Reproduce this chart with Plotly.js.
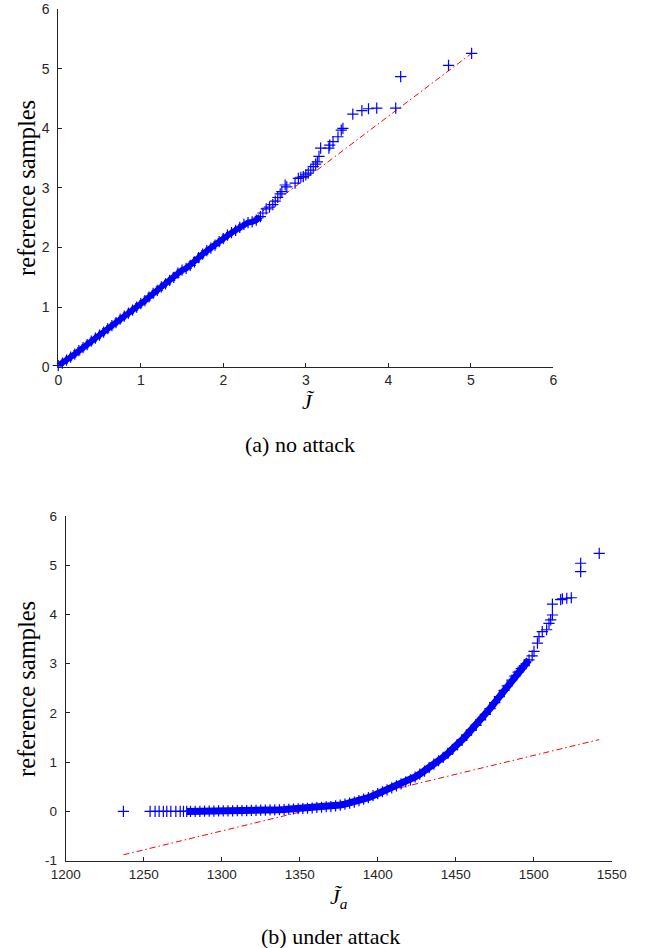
<!DOCTYPE html>
<html>
<head>
<meta charset="utf-8">
<script src="https://cdn.plot.ly/plotly-3.0.1.min.js"></script>
<style>html,body{margin:0;padding:0;background:#fff;}#chart{width:646px;height:948px;}</style>
</head>
<body>
<div id="chart"></div>
<script>
// ---- (a) no attack : dense band of overlapping samples ----
var topBandJ = [0.00,0.05,0.10,0.15,0.20,0.25,0.30,0.35,0.40,0.45,0.50,0.55,0.60,0.65,0.70,0.75,0.80,0.85,0.90,0.95,
                1.00,1.05,1.10,1.15,1.20,1.25,1.30,1.35,1.40,1.45,1.50,1.55,1.60,1.65,1.70,1.75,1.80,1.85,1.90,1.95,
                2.00,2.05,2.10,2.15,2.20,2.25,2.30,2.35,2.40,2.45];
var topBandRef = [0.02,0.06,0.11,0.16,0.21,0.27,0.32,0.37,0.43,0.48,0.53,0.58,0.64,0.69,0.74,0.80,0.85,0.90,0.95,1.00,
                  1.06,1.11,1.17,1.23,1.28,1.34,1.39,1.45,1.50,1.57,1.62,1.65,1.70,1.76,1.83,1.89,1.95,1.99,2.04,2.10,
                  2.15,2.21,2.25,2.29,2.34,2.39,2.42,2.43,2.46,2.52];
// ---- (a) no attack : separated upper-tail samples ----
var topTailJ = [2.48,2.52,2.56,2.60,2.63,2.66,2.69,2.71,2.75,2.77,
                2.87,2.91,2.94,2.97,3.00,3.03,3.06,3.09,3.12,3.14,3.16,3.18,3.28,3.29,3.33,3.39,3.43,3.45,3.57,3.68,
                3.76,3.86,4.09,4.15,4.73,5.01];
var topTailRef = [2.58,2.65,2.68,2.72,2.78,2.84,2.90,2.94,3.05,3.02,
                  3.08,3.16,3.18,3.19,3.22,3.25,3.30,3.36,3.40,3.44,3.53,3.67,3.67,3.72,3.78,3.86,3.97,4.00,4.24,4.30,
                  4.33,4.34,4.34,4.87,5.06,5.26];
var topLineJ = [0.00, 5.01];
var topLineRef = [0.02, 5.26];

// ---- (b) under attack : separated lower-tail samples ----
var botLowJ = [1237.0,1254.1,1257.3,1259.9,1262.6,1264.8,1267.4,1270.6,1273.4,1275.5];
var botLowRef = [0,0,0,0,0,0,0,0,0,0];
// ---- (b) under attack : dense band ----
var botBandJ = [1277.6,1280,1283,1286,1289,1292,1295,1298,1301,1304,
                1307,1310,1313,1316,1319,1322,1325,1328,1331,1334,
                1337,1340,1343,1346,1349,1352,1355,1358,1361,1364,
                1367,1370,1373,1376,1379,1382,1385,1388,1391,1394,
                1397,1400,1403,1406,1409,1412,1415,1418,1421,1424,
                1427,1430,1433,1436,1439,1442,1445,1448,1451,1454,
                1457,1460,1463,1466,1469,1472,1475,1478,1481,1483,
                1486,1488,1490,1492,1494,1497];
var botBandRef = [0,0.00,0.00,0.00,0.005,0.005,0.005,0.01,0.01,0.01,
                  0.012,0.015,0.015,0.018,0.02,0.02,0.025,0.025,0.03,0.03,
                  0.035,0.04,0.045,0.05,0.055,0.06,0.065,0.07,0.08,0.085,
                  0.095,0.10,0.115,0.13,0.15,0.17,0.19,0.22,0.25,0.28,
                  0.32,0.36,0.40,0.44,0.48,0.52,0.56,0.60,0.64,0.70,
                  0.76,0.82,0.89,0.96,1.03,1.10,1.18,1.26,1.35,1.45,
                  1.55,1.65,1.75,1.86,1.97,2.09,2.21,2.33,2.46,2.55,
                  2.67,2.75,2.83,2.90,2.96,3.08];
// ---- (b) under attack : separated upper-tail samples ----
var botTailJ = [1499,1500.2,1502.4,1503.4,1505.5,1508.3,1509.8,1510.9,1512.0,1512.0,
                1517.3,1518.4,1521.2,1524.1,1530.1,1530.1,1542.0];
var botTailRef = [3.16,3.25,3.42,3.55,3.65,3.69,3.82,3.89,3.99,4.21,
                  4.30,4.32,4.33,4.34,4.87,5.04,5.24];
var botLineJ = [1237, 1542];
var botLineRef = [-0.88, 1.46];

var topXTicks = [0,1,2,3,4,5,6];
var topYTicks = [0,1,2,3,4,5,6];
var botXTicks = [1200,1250,1300,1350,1400,1450,1500,1550];
var botYTicks = [-1,0,1,2,3,4,5,6];
var botYTickText = ['-1','0','1','2','3','4','5','6'];

var BLUE = '#0000ff';
var markerStyle = {symbol:'cross-thin', size:8, color:BLUE, line:{color:BLUE, width:1.2}};
var lineStyle = {color:'#ff0000', width:1, dash:'6px,3px,1.5px,3px'};

function pts(x, y, xa, ya, band){
  var t = {x:x, y:y, type:'scatter', mode: band ? 'lines+markers' : 'markers', marker: markerStyle,
           xaxis:xa, yaxis:ya, cliponaxis:false};
  if (band) t.line = {color:BLUE, width:band};
  return t;
}
var traces = [
  {x: topLineJ, y: topLineRef, type:'scatter', mode:'lines', line: lineStyle, xaxis:'x', yaxis:'y'},
  pts(topBandJ, topBandRef, 'x', 'y', 6),
  pts(topTailJ, topTailRef, 'x', 'y', 0),
  {x: botLineJ, y: botLineRef, type:'scatter', mode:'lines', line: lineStyle, xaxis:'x2', yaxis:'y2'},
  pts(botLowJ, botLowRef, 'x2', 'y2', 0),
  pts(botBandJ, botBandRef, 'x2', 'y2', 7),
  pts(botTailJ, botTailRef, 'x2', 'y2', 0)
];

var sans = '"Liberation Sans", Arial, Helvetica, sans-serif';
function ax(extra, fs){
  var base = {showline:true, linecolor:'#262626', linewidth:1, ticks:'inside', ticklen:4, tickwidth:1,
    tickcolor:'#262626', showgrid:false, zeroline:false, tickfont:{family:sans, size:fs, color:'#262626'},
    mirror:false, fixedrange:true};
  for (var k in extra) base[k] = extra[k];
  return base;
}

var serif = '"Liberation Serif", "Times New Roman", "DejaVu Serif", Times, serif';
var layout = {
  width:646, height:948, margin:{l:0,r:0,t:0,b:0}, showlegend:false,
  paper_bgcolor:'#fff', plot_bgcolor:'#fff',
  font:{family:serif},
  xaxis: ax({domain:[0.0902,0.8565], range:[0,6], tickvals:topXTicks, anchor:'y', ticklabelstandoff:1}, 14),
  yaxis: ax({domain:[0.6132,0.9902], range:[0,6], tickvals:topYTicks, anchor:'x', ticklabelstandoff:5}, 14),
  xaxis2: ax({domain:[0.1017,0.9469], range:[1200,1550], tickvals:botXTicks, anchor:'y2', ticklabelstandoff:1}, 13.5),
  yaxis2: ax({domain:[0.0921,0.4557], range:[-1,6], tickvals:botYTicks, ticktext:botYTickText, anchor:'x2', ticklabelstandoff:5}, 13.5),
  annotations: [
    {text:'reference samples', xref:'paper', yref:'paper', x:26/646, y:1-188/948, showarrow:false,
     textangle:-90, font:{family:serif, size:24.5, color:'#000'}, xanchor:'center', yanchor:'middle'},
    {text:'<i>J̃</i>', xref:'paper', yref:'paper', x:308/646, y:1-401/948, showarrow:false,
     font:{family:serif, size:22, color:'#000'}, xanchor:'center', yanchor:'middle'},
    {text:'(a) no attack', xref:'paper', yref:'paper', x:300/646, y:1-444/948, showarrow:false,
     font:{family:serif, size:22, color:'#000'}, xanchor:'center', yanchor:'middle'},
    {text:'reference samples', xref:'paper', yref:'paper', x:26/646, y:1-689/948, showarrow:false,
     textangle:-90, font:{family:serif, size:24.5, color:'#000'}, xanchor:'center', yanchor:'middle'},
    {text:'<i>J̃</i><sub><i>a</i></sub>', xref:'paper', yref:'paper', x:339/646, y:1-898/948, showarrow:false,
     font:{family:serif, size:22, color:'#000'}, xanchor:'center', yanchor:'middle'},
    {text:'(b) under attack', xref:'paper', yref:'paper', x:330/646, y:1-936/948, showarrow:false,
     font:{family:serif, size:22, color:'#000'}, xanchor:'center', yanchor:'middle'}
  ]
};
Plotly.newPlot('chart', traces, layout, {staticPlot:true, displayModeBar:false});
</script>
</body>
</html>
